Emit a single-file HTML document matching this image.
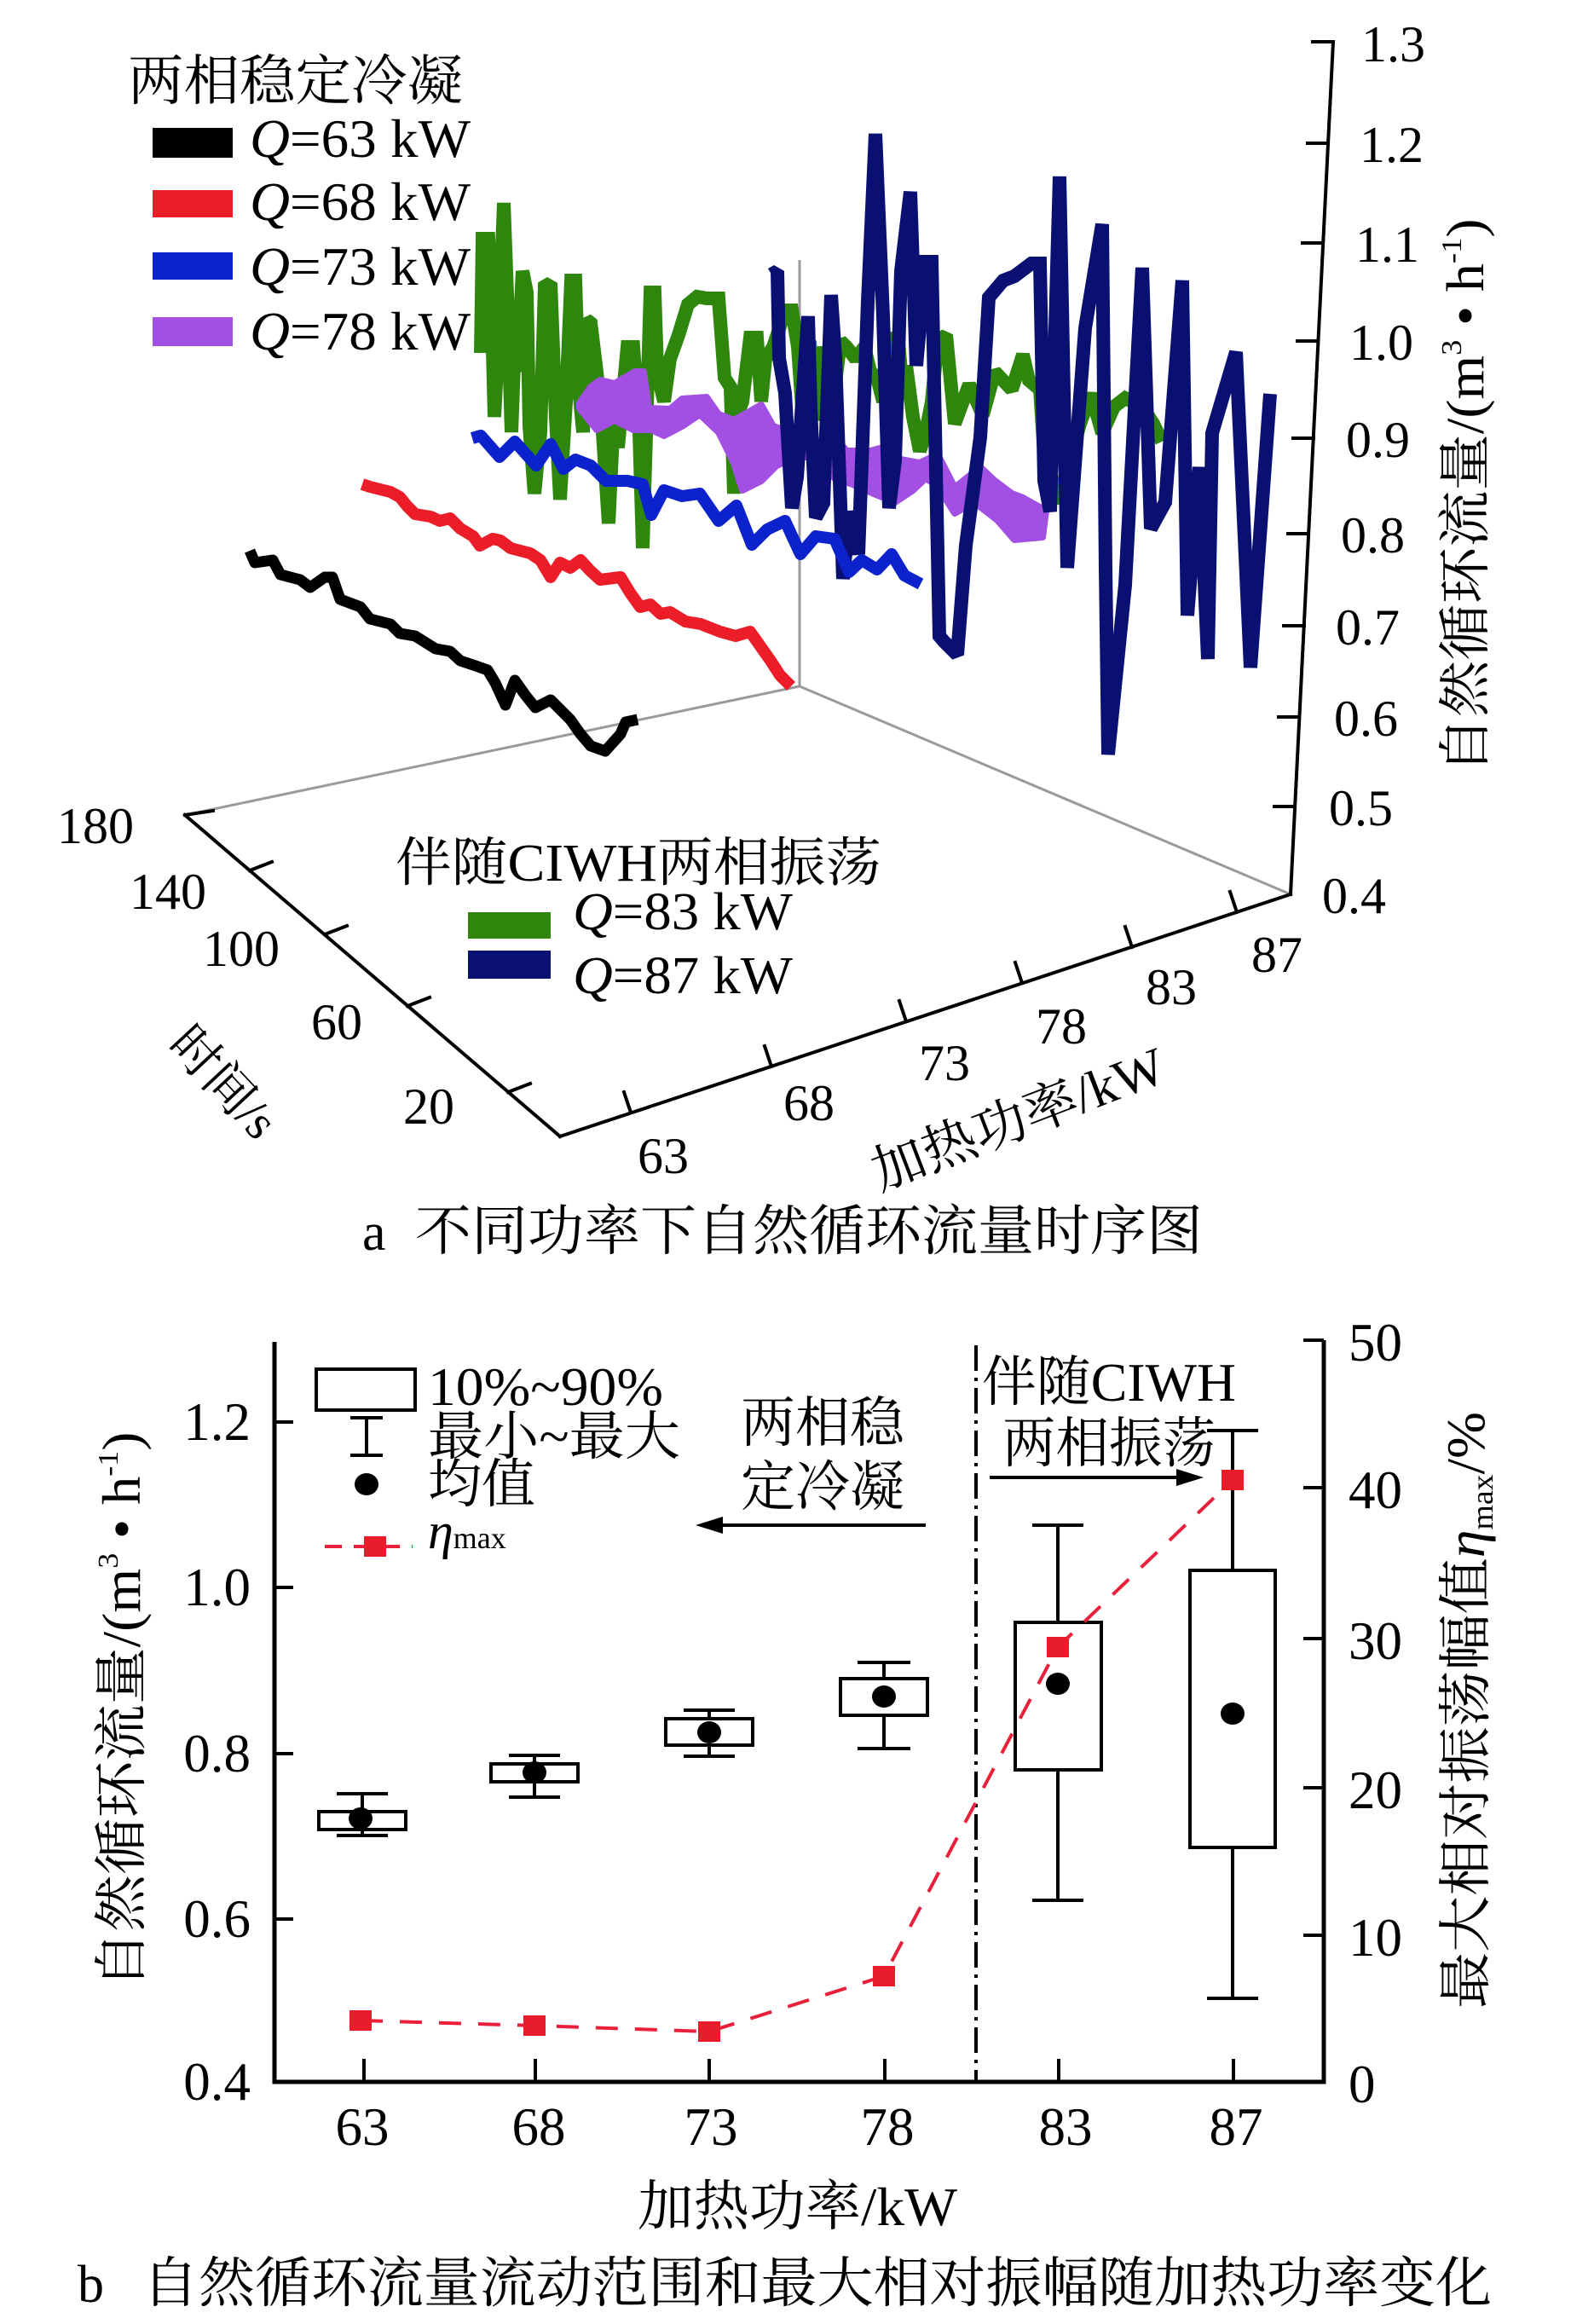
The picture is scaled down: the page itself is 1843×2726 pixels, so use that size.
<!DOCTYPE html>
<html><head><meta charset="utf-8"><style>
html,body{margin:0;padding:0;background:#fff;}
svg{display:block;}
text{font-family:"Liberation Serif","Noto Serif CJK SC",serif;fill:#000;}
</style></head><body>
<svg width="1843" height="2726" viewBox="0 0 1843 2726" xmlns="http://www.w3.org/2000/svg">
<rect width="1843" height="2726" fill="#fff"/>

<!-- ============ TOP CHART (a) ============ -->
<g stroke="#9a9a9a" stroke-width="3" fill="none">
<line x1="217" y1="956" x2="938" y2="805"/>
<line x1="938" y1="805" x2="1514" y2="1049"/>
<line x1="938" y1="805" x2="938" y2="305"/>
</g>

<!-- series: green 83 -->
<polyline fill="none" stroke="#2e860c" stroke-width="16" stroke-linejoin="miter" stroke-miterlimit="1.5" points="564,414 566,280 573,280 577,371 580,489 586,371 591,238 595,346 600,507 604,400 607,436 613,318 618,343 621,500 627,579 634,507 639,336 646,332 652,489 657,586 664,471 670,329 675,329 679,454 684,507 688,375 693,379 700,436 707,507 714,614 720,489 725,525 736,407 743,407 750,507 754,643 757,543 763,343 768,343 771,436 779,471 786,421 796,393 807,357 818,348 829,350 843,350 850,443 857,454 861,579 864,489 871,471 880,396 888,396 893,471 898,421 907,407 914,386 921,364 929,364 936,407 943,507 950,400 957,493 964,407 971,443 979,457 986,400 993,407 1004,421 1014,407 1021,436 1029,443 1036,471 1046,393 1054,400 1057,436 1064,436 1071,489 1079,529 1086,507 1093,471 1100,400 1110,393 1120,497 1137,451 1153,487 1167,436 1187,457 1200,416 1207,446 1220,457 1227,564 1240,589 1253,548 1267,497 1280,462 1293,508 1307,477 1320,467 1340,477 1353,497 1363,518"/>

<!-- purple 78 band -->
<polygon fill="#a24fe4" stroke="#a24fe4" stroke-width="8" stroke-linejoin="round" points="680,473 693,454 704,446 721,450 745,436 755,436 761,479 786,480 800,468 829,466 843,486 861,493 893,475 907,500 929,507 950,521 979,511 993,529 1021,529 1036,525 1057,539 1079,543 1100,533 1120,572 1150,548 1167,564 1187,579 1200,584 1227,599 1223,630 1190,633 1170,610 1143,589 1120,602 1100,570 1086,561 1071,575 1050,589 1025,579 1000,568 979,561 961,536 936,536 911,546 893,564 871,575 861,543 843,507 821,486 800,500 779,511 764,504 743,504 721,493 700,504 680,479"/>

<!-- navy 87 -->
<polyline fill="none" stroke="#0a1072" stroke-width="16" stroke-linejoin="miter" stroke-miterlimit="1.5" points="905,322 912,318 914,420 921,461 929,596 935,560 948,371 951,480 957,607 966,590 975,346 980,420 989,679 997,600 1007,650 1018,354 1027,157 1036,371 1043,596 1050,540 1057,318 1068,225 1075,429 1086,307 1093,307 1102,746 1107,752 1123,768 1133,640 1150,513 1160,349 1177,329 1190,324 1210,309 1220,309 1225,564 1232,600 1243,207 1252,666 1273,385 1293,263 1297,666 1300,885 1320,686 1340,314 1350,620 1367,589 1387,329 1393,722 1407,548 1417,773 1422,508 1450,413 1467,783 1490,462"/>

<!-- blue 73 -->
<polyline fill="none" stroke="#0c22cc" stroke-width="14" stroke-linejoin="round" points="554,514 564,511 586,536 604,518 629,546 646,521 661,550 675,539 693,546 711,564 736,564 754,568 764,604 779,575 800,582 821,579 843,611 864,593 882,639 900,621 921,611 939,650 957,629 979,632 996,671 1011,657 1029,668 1046,650 1061,675 1080,685"/>

<!-- red 68 -->
<polyline fill="none" stroke="#ec1c28" stroke-width="14" stroke-linejoin="round" points="425,568 434,571 446,574 458,577 469,583 478,594 487,603 505,606 516,611 528,608 540,620 555,629 563,640 578,632 587,634 599,643 622,649 634,657 646,677 657,660 669,666 681,657 692,669 704,680 728,677 739,695 751,712 763,709 775,720 786,718 804,729 822,732 845,741 863,746 880,741 892,758 904,775 915,792 928,805"/>

<!-- black 63 -->
<polyline fill="none" stroke="#000" stroke-width="13" stroke-linejoin="round" points="293,646 299,660 320,657 329,674 352,680 364,689 381,677 390,677 399,703 423,712 434,726 458,732 469,743 487,746 511,761 528,764 540,775 558,781 572,786 581,801 593,827 604,798 616,815 628,830 646,821 657,832 669,844 681,861 693,875 710,881 728,861 734,847 748,844"/>

<!-- front axes -->
<g stroke="#000" stroke-width="4" fill="none" stroke-linecap="square">
<line x1="217" y1="956" x2="657" y2="1333"/>
<line x1="657" y1="1333" x2="1514" y2="1049"/>
<line x1="1514" y1="1049" x2="1564" y2="49"/>
<line x1="217" y1="956" x2="250" y2="951"/>
<line x1="293" y1="1021" x2="319" y2="1011"/>
<line x1="381" y1="1096" x2="407" y2="1086"/>
<line x1="478" y1="1180" x2="504" y2="1170"/>
<line x1="596" y1="1281" x2="622" y2="1271"/>
<line x1="740" y1="1305" x2="732" y2="1281"/>
<line x1="905" y1="1251" x2="897" y2="1227"/>
<line x1="1063" y1="1198" x2="1055" y2="1174"/>
<line x1="1199" y1="1153" x2="1191" y2="1129"/>
<line x1="1328" y1="1111" x2="1320" y2="1087"/>
<line x1="1451" y1="1070" x2="1443" y2="1046"/>
<line x1="1564" y1="49" x2="1540" y2="49"/>
<line x1="1558" y1="168" x2="1534" y2="168"/>
<line x1="1552" y1="285" x2="1528" y2="285"/>
<line x1="1546" y1="400" x2="1522" y2="400"/>
<line x1="1541" y1="514" x2="1517" y2="514"/>
<line x1="1535" y1="626" x2="1511" y2="626"/>
<line x1="1530" y1="734" x2="1506" y2="734"/>
<line x1="1524" y1="841" x2="1500" y2="841"/>
<line x1="1519" y1="946" x2="1495" y2="946"/>
</g>

<g font-size="60">
<text x="1597" y="72">1.3</text>
<text x="1595" y="190">1.2</text>
<text x="1590" y="307">1.1</text>
<text x="1583" y="422">1.0</text>
<text x="1579" y="536">0.9</text>
<text x="1573" y="648">0.8</text>
<text x="1567" y="756">0.7</text>
<text x="1565" y="863">0.6</text>
<text x="1559" y="968">0.5</text>
<text x="1551" y="1071">0.4</text>
</g>
<g font-size="60" text-anchor="middle">
<text x="112" y="989">180</text>
<text x="197" y="1066">140</text>
<text x="283" y="1133">100</text>
<text x="395" y="1219">60</text>
<text x="503" y="1318">20</text>
</g>
<g font-size="60" text-anchor="middle">
<text x="778" y="1376">63</text>
<text x="949" y="1314">68</text>
<text x="1108" y="1267">73</text>
<text x="1245" y="1224">78</text>
<text x="1374" y="1178">83</text>
<text x="1498" y="1140">87</text>
</g>

<text font-size="58" text-anchor="middle" transform="rotate(47 248 1283)" x="248" y="1283">时间/s</text>
<text font-size="62" text-anchor="middle" textLength="363" lengthAdjust="spacingAndGlyphs" transform="rotate(-21 1202 1332)" x="1202" y="1332">加热功率/kW</text>
<text font-size="62" text-anchor="middle" textLength="651" lengthAdjust="spacingAndGlyphs" transform="rotate(-90 1740 582)" x="1740" y="582">自然循环流量/(m<tspan font-size="34" dy="-26">3</tspan><tspan dy="26"> • h</tspan><tspan font-size="34" dy="-26">-1</tspan><tspan dy="26">)</tspan></text>

<text x="150" y="117" font-size="64" textLength="393" lengthAdjust="spacingAndGlyphs">两相稳定冷凝</text>
<rect x="179" y="150" width="94" height="35" fill="#000"/>
<rect x="179" y="223" width="94" height="32" fill="#ec1c28"/>
<rect x="179" y="296" width="94" height="32" fill="#0c22cc"/>
<rect x="179" y="372" width="94" height="34" fill="#a24fe4"/>
<g font-size="64">
<text x="293" y="184" textLength="259" lengthAdjust="spacingAndGlyphs"><tspan font-style="italic">Q</tspan>=63 kW</text>
<text x="293" y="258" textLength="259" lengthAdjust="spacingAndGlyphs"><tspan font-style="italic">Q</tspan>=68 kW</text>
<text x="293" y="334" textLength="259" lengthAdjust="spacingAndGlyphs"><tspan font-style="italic">Q</tspan>=73 kW</text>
<text x="293" y="410" textLength="259" lengthAdjust="spacingAndGlyphs"><tspan font-style="italic">Q</tspan>=78 kW</text>
</g>

<text x="464" y="1033" font-size="62" textLength="570" lengthAdjust="spacingAndGlyphs">伴随CIWH两相振荡</text>
<rect x="549" y="1070" width="97" height="31" fill="#2e860c"/>
<rect x="549" y="1115" width="97" height="33" fill="#0a1072"/>
<g font-size="62">
<text x="672" y="1090" textLength="258" lengthAdjust="spacingAndGlyphs"><tspan font-style="italic">Q</tspan>=83 kW</text>
<text x="672" y="1165" textLength="258" lengthAdjust="spacingAndGlyphs"><tspan font-style="italic">Q</tspan>=87 kW</text>
</g>

<text x="425" y="1466" font-size="62">a</text>
<text x="487" y="1466" font-size="64" textLength="924" lengthAdjust="spacingAndGlyphs">不同功率下自然循环流量时序图</text>

<!-- ============ BOTTOM CHART (b) ============ -->
<g stroke="#000" stroke-width="5" fill="none">
<polyline points="322,1574 322,2442 1553,2442 1553,1572"/>
</g>
<g stroke="#000" stroke-width="4" fill="none">
<line x1="322" y1="1668" x2="344" y2="1668"/>
<line x1="322" y1="1862" x2="344" y2="1862"/>
<line x1="322" y1="2057" x2="344" y2="2057"/>
<line x1="322" y1="2251" x2="344" y2="2251"/>
<line x1="1553" y1="1572" x2="1529" y2="1572"/>
<line x1="1553" y1="1745" x2="1529" y2="1745"/>
<line x1="1553" y1="1922" x2="1529" y2="1922"/>
<line x1="1553" y1="2097" x2="1529" y2="2097"/>
<line x1="1553" y1="2270" x2="1529" y2="2270"/>
<line x1="427" y1="2442" x2="427" y2="2415"/>
<line x1="628" y1="2442" x2="628" y2="2415"/>
<line x1="832" y1="2442" x2="832" y2="2415"/>
<line x1="1038" y1="2442" x2="1038" y2="2415"/>
<line x1="1242" y1="2442" x2="1242" y2="2415"/>
<line x1="1447" y1="2442" x2="1447" y2="2415"/>
</g>
<g font-size="63" text-anchor="end">
<text x="294" y="1689">1.2</text>
<text x="294" y="1883">1.0</text>
<text x="294" y="2078">0.8</text>
<text x="294" y="2272">0.6</text>
<text x="294" y="2463">0.4</text>
</g>
<g font-size="63">
<text x="1582" y="1596">50</text>
<text x="1582" y="1769">40</text>
<text x="1582" y="1946">30</text>
<text x="1582" y="2121">20</text>
<text x="1582" y="2294">10</text>
<text x="1582" y="2466">0</text>
</g>
<g font-size="63" text-anchor="middle">
<text x="425" y="2516">63</text>
<text x="632" y="2516">68</text>
<text x="834" y="2516">73</text>
<text x="1041" y="2516">78</text>
<text x="1250" y="2516">83</text>
<text x="1450" y="2516">87</text>
</g>

<line x1="1145" y1="1578" x2="1145" y2="2442" stroke="#000" stroke-width="4" stroke-dasharray="30 8 4 8"/>

<g stroke="#000" stroke-width="4" fill="#fff">
<line x1="425" y1="2104" x2="425" y2="2153"/>
<line x1="395" y1="2104" x2="455" y2="2104"/><line x1="395" y1="2153" x2="455" y2="2153"/>
<rect x="374" y="2125" width="102" height="21"/>
<line x1="627" y1="2059" x2="627" y2="2108"/>
<line x1="597" y1="2059" x2="657" y2="2059"/><line x1="597" y1="2108" x2="657" y2="2108"/>
<rect x="576" y="2069" width="102" height="21"/>
<line x1="832" y1="2006" x2="832" y2="2060"/>
<line x1="802" y1="2006" x2="862" y2="2006"/><line x1="802" y1="2060" x2="862" y2="2060"/>
<rect x="781" y="2016" width="102" height="31"/>
<line x1="1037" y1="1950" x2="1037" y2="2051"/>
<line x1="1006" y1="1950" x2="1068" y2="1950"/><line x1="1006" y1="2051" x2="1068" y2="2051"/>
<rect x="986" y="1969" width="102" height="43"/>
<line x1="1241" y1="1789" x2="1241" y2="2229"/>
<line x1="1211" y1="1789" x2="1271" y2="1789"/><line x1="1211" y1="2229" x2="1271" y2="2229"/>
<rect x="1191" y="1903" width="101" height="173"/>
<line x1="1446" y1="1678" x2="1446" y2="2344"/>
<line x1="1416" y1="1678" x2="1476" y2="1678"/><line x1="1416" y1="2344" x2="1476" y2="2344"/>
<rect x="1396" y="1842" width="100" height="325"/>
</g>
<g fill="#000">
<ellipse cx="423" cy="2133" rx="14" ry="13"/>
<ellipse cx="627" cy="2079" rx="14" ry="13"/>
<ellipse cx="832" cy="2032" rx="14" ry="13"/>
<ellipse cx="1037" cy="1990" rx="14" ry="13"/>
<ellipse cx="1241" cy="1975" rx="14" ry="13"/>
<ellipse cx="1446" cy="2010" rx="14" ry="13"/>
</g>

<polyline fill="none" stroke="#e8203a" stroke-width="4" stroke-dasharray="26 20" points="423,2370 627,2376 832,2383 1037,2318 1241,1932 1446,1736"/>
<g fill="#e81c2a">
<rect x="410" y="2358" width="26" height="24"/>
<rect x="614" y="2364" width="26" height="24"/>
<rect x="819" y="2371" width="26" height="24"/>
<rect x="1024" y="2306" width="26" height="24"/>
<rect x="1228" y="1920" width="26" height="24"/>
<rect x="1433" y="1724" width="26" height="24"/>
</g>

<text x="869" y="1691" font-size="64" textLength="192" lengthAdjust="spacingAndGlyphs">两相稳</text>
<text x="869" y="1766" font-size="64" textLength="192" lengthAdjust="spacingAndGlyphs">定冷凝</text>
<line x1="840" y1="1789" x2="1086" y2="1789" stroke="#000" stroke-width="4"/>
<polygon points="816,1789 848,1779 848,1799" fill="#000"/>
<text x="1152" y="1643" font-size="64" textLength="298" lengthAdjust="spacingAndGlyphs">伴随CIWH</text>
<text x="1176" y="1715" font-size="64" textLength="250" lengthAdjust="spacingAndGlyphs">两相振荡</text>
<line x1="1161" y1="1733" x2="1385" y2="1733" stroke="#000" stroke-width="4"/>
<polygon points="1412,1733 1380,1723 1380,1743" fill="#000"/>

<rect x="371" y="1606" width="116" height="48" fill="#fff" stroke="#000" stroke-width="4"/>
<g stroke="#000" stroke-width="4">
<line x1="430" y1="1663" x2="430" y2="1707"/>
<line x1="411" y1="1663" x2="449" y2="1663"/>
<line x1="411" y1="1707" x2="449" y2="1707"/>
</g>
<ellipse cx="430" cy="1741" rx="14" ry="13" fill="#000"/>
<line x1="381" y1="1814" x2="484" y2="1814" stroke="#e8203a" stroke-width="4" stroke-dasharray="20 14"/>
<rect x="427" y="1802" width="26" height="24" fill="#e81c2a"/>
<text x="502" y="1648" font-size="64" textLength="276" lengthAdjust="spacingAndGlyphs">10%~90%</text>
<text x="502" y="1706" font-size="62" textLength="296" lengthAdjust="spacingAndGlyphs">最小~最大</text>
<text x="502" y="1762" font-size="62" textLength="126" lengthAdjust="spacingAndGlyphs">均值</text>
<text x="502" y="1816" font-size="60"><tspan font-style="italic">η</tspan><tspan font-size="36">max</tspan></text>

<text font-size="63" text-anchor="middle" textLength="653" lengthAdjust="spacingAndGlyphs" transform="rotate(-90 164 2006)" x="164" y="2006">自然循环流量/(m<tspan font-size="34" dy="-26">3</tspan><tspan dy="26"> • h</tspan><tspan font-size="34" dy="-26">-1</tspan><tspan dy="26">)</tspan></text>
<text font-size="63" text-anchor="middle" textLength="700" lengthAdjust="spacingAndGlyphs" transform="rotate(-90 1741 2006)" x="1741" y="2006">最大相对振荡幅值<tspan font-style="italic">η</tspan><tspan font-size="36" dy="10">max</tspan><tspan dy="-10">/%</tspan></text>
<text x="748" y="2610" font-size="64" textLength="375" lengthAdjust="spacingAndGlyphs">加热功率/kW</text>

<text x="91" y="2700" font-size="62">b</text>
<text x="167" y="2700" font-size="64" textLength="1583" lengthAdjust="spacingAndGlyphs">自然循环流量流动范围和最大相对振幅随加热功率变化</text>
</svg>
</body></html>
